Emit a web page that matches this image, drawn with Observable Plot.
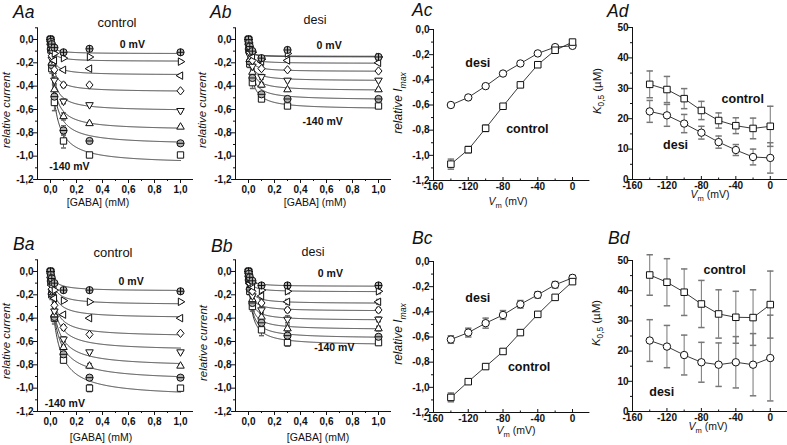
<!DOCTYPE html>
<html><head><meta charset="utf-8">
<script src="https://cdn.jsdelivr.net/npm/d3@7"></script>
<script src="https://cdn.jsdelivr.net/npm/@observablehq/plot@0.6"></script>
<style>
body{margin:0;background:#fff;}
#fig{position:relative;width:787px;height:445px;overflow:hidden;background:#fff;}
#fig svg{position:absolute;}
</style></head><body><div id="fig"></div>
<script>
// ---------- data ----------
const conc = [0, 0.003, 0.01, 0.03, 0.1, 0.3, 1.0];          // [GABA] mM
const vm = [-140, -120, -100, -80, -60, -40, -20, 0];         // mV

// Aa: control, row A (relative current per voltage, per concentration)
const aaI = [
  [0, -0.09, -0.25, -0.54, -0.87, -0.99, -0.99],
  [0, -0.08, -0.22, -0.49, -0.78, -0.87, -0.89],
  [0, -0.07, -0.20, -0.43, -0.66, -0.72, -0.75],
  [0, -0.06, -0.17, -0.35, -0.53, -0.56, -0.61],
  [0, -0.05, -0.14, -0.26, -0.39, -0.39, -0.44],
  [0, -0.04, -0.10, -0.18, -0.26, -0.25, -0.31],
  [0, -0.03, -0.07, -0.12, -0.16, -0.15, -0.19],
  [0, -0.02, -0.04, -0.07, -0.11, -0.08, -0.11]];
const aaE = [
  [0, 0.03, 0.04, 0.07, 0.06, 0.02, 0.01],
  [0, 0.02, 0.04, 0.05, 0.04, 0.02, 0.01],
  [0, 0.02, 0.03, 0.04, 0.03, 0.01, 0.01],
  [0, 0.02, 0.03, 0.03, 0.02, 0.01, 0.01],
  [0, 0.01, 0.02, 0.03, 0.02, 0.01, 0.01],
  [0, 0.01, 0.02, 0.02, 0.01, 0.01, 0.01],
  [0, 0.01, 0.01, 0.02, 0.01, 0.01, 0.01],
  [0, 0.01, 0.01, 0.01, 0.01, 0.01, 0.01]];
const aaFit = [-1.07, -0.905, -0.78, -0.615, -0.45, -0.305, -0.188, -0.122];

// Ab: desi, row A
const abI = [
  [0, -0.09, -0.21, -0.37, -0.51, -0.57, -0.57],
  [0, -0.08, -0.19, -0.33, -0.47, -0.51, -0.51],
  [0, -0.07, -0.17, -0.28, -0.39, -0.43, -0.43],
  [0, -0.06, -0.14, -0.23, -0.32, -0.35, -0.35],
  [0, -0.05, -0.11, -0.18, -0.25, -0.26, -0.27],
  [0, -0.04, -0.09, -0.14, -0.19, -0.18, -0.20],
  [0, -0.03, -0.07, -0.11, -0.17, -0.12, -0.15],
  [0, -0.03, -0.06, -0.10, -0.16, -0.09, -0.15]];
const abE = [
  [0, 0.02, 0.03, 0.05, 0.02, 0.01, 0.01],
  [0, 0.02, 0.03, 0.04, 0.02, 0.01, 0.01],
  [0, 0.02, 0.02, 0.03, 0.02, 0.01, 0.01],
  [0, 0.01, 0.02, 0.03, 0.02, 0.01, 0.01],
  [0, 0.01, 0.02, 0.02, 0.01, 0.01, 0.01],
  [0, 0.01, 0.01, 0.02, 0.01, 0.01, 0.01],
  [0, 0.01, 0.01, 0.01, 0.01, 0.02, 0.01],
  [0, 0.01, 0.01, 0.01, 0.01, 0.02, 0.01]];
const abFit = [-0.60, -0.52, -0.44, -0.355, -0.275, -0.205, -0.15, -0.145];

// Ba: control, row B
const baI = [
  [0, -0.09, -0.20, -0.40, -0.76, -1.00, -1.00],
  [0, -0.08, -0.19, -0.39, -0.71, -0.91, -0.91],
  [0, -0.07, -0.18, -0.37, -0.65, -0.81, -0.81],
  [0, -0.07, -0.17, -0.34, -0.58, -0.69, -0.69],
  [0, -0.06, -0.15, -0.29, -0.48, -0.54, -0.53],
  [0, -0.05, -0.12, -0.23, -0.37, -0.40, -0.40],
  [0, -0.04, -0.09, -0.16, -0.25, -0.26, -0.26],
  [0, -0.03, -0.06, -0.10, -0.16, -0.16, -0.17]];
const baE = [
  [0, 0.02, 0.04, 0.05, 0.02, 0.03, 0.01],
  [0, 0.02, 0.03, 0.04, 0.02, 0.02, 0.01],
  [0, 0.02, 0.03, 0.04, 0.02, 0.02, 0.01],
  [0, 0.02, 0.03, 0.03, 0.02, 0.01, 0.01],
  [0, 0.01, 0.02, 0.03, 0.02, 0.01, 0.01],
  [0, 0.01, 0.02, 0.02, 0.01, 0.01, 0.01],
  [0, 0.01, 0.01, 0.02, 0.01, 0.01, 0.01],
  [0, 0.01, 0.01, 0.01, 0.01, 0.01, 0.01]];
const baFit = [-1.08, -0.94, -0.82, -0.68, -0.56, -0.40, -0.285, -0.168];

// Bb: desi, row B
const bbI = [
  [0, -0.08, -0.17, -0.30, -0.50, -0.61, -0.61],
  [0, -0.07, -0.15, -0.27, -0.44, -0.55, -0.56],
  [0, -0.06, -0.14, -0.24, -0.39, -0.49, -0.49],
  [0, -0.06, -0.12, -0.21, -0.33, -0.41, -0.41],
  [0, -0.05, -0.10, -0.17, -0.27, -0.33, -0.33],
  [0, -0.04, -0.08, -0.13, -0.21, -0.26, -0.26],
  [0, -0.03, -0.06, -0.10, -0.16, -0.17, -0.17],
  [0, -0.02, -0.05, -0.08, -0.12, -0.12, -0.12]];
const bbE = [
  [0, 0.02, 0.03, 0.04, 0.05, 0.03, 0.02],
  [0, 0.02, 0.03, 0.04, 0.04, 0.03, 0.02],
  [0, 0.02, 0.03, 0.03, 0.04, 0.03, 0.02],
  [0, 0.02, 0.02, 0.03, 0.03, 0.03, 0.02],
  [0, 0.01, 0.02, 0.03, 0.03, 0.02, 0.02],
  [0, 0.01, 0.02, 0.02, 0.03, 0.02, 0.02],
  [0, 0.01, 0.01, 0.02, 0.02, 0.02, 0.02],
  [0, 0.01, 0.01, 0.02, 0.02, 0.02, 0.02]];
const bbFit = [-0.635, -0.575, -0.50, -0.42, -0.34, -0.275, -0.175, -0.128];

// Ac / Bc: relative Imax vs Vm
const acCtrl = [-1.07, -0.955, -0.785, -0.61, -0.44, -0.28, -0.165, -0.10];
const acCtrlErr = [0.04, 0.025, 0.025, 0.01, 0.01, 0.01, 0.01, 0.01];
const acDesi = [-0.60, -0.54, -0.45, -0.35, -0.27, -0.19, -0.14, -0.13];
const acDesiErr = [0.015, 0.01, 0.01, 0.01, 0.01, 0.01, 0.01, 0.01];
const bcCtrl = [-1.08, -0.955, -0.835, -0.715, -0.565, -0.42, -0.285, -0.16];
const bcCtrlErr = [0.035, 0.02, 0.02, 0.02, 0.02, 0.01, 0.01, 0.01];
const bcDesi = [-0.62, -0.565, -0.49, -0.425, -0.34, -0.265, -0.185, -0.13];
const bcDesiErr = [0.03, 0.035, 0.04, 0.035, 0.03, 0.025, 0.025, 0.02];

// Ad / Bd: K0.5 (µM) vs Vm
const adCtrl = [31.3, 29.6, 26.6, 22.7, 19.4, 17.7, 16.8, 17.5];
const adCtrlErr = [4.4, 4.3, 3.3, 3.0, 2.5, 2.6, 3.4, 6.6];
const adDesi = [22.4, 21.1, 18.4, 15.4, 12.3, 9.7, 7.4, 7.1];
const adDesiErr = [3.6, 3.6, 3.0, 2.1, 2.0, 1.8, 2.6, 5.0];
const bdCtrl = [45.2, 42.8, 39.5, 35.6, 32.3, 31.2, 31.1, 35.4];
const bdCtrlErr = [6.7, 7.8, 7.7, 7.8, 8.0, 8.6, 9.2, 11.1];
const bdDesi = [23.5, 21.5, 18.7, 16.3, 15.5, 16.3, 15.5, 17.7];
const bdDesiErr = [6.9, 7.0, 6.6, 6.6, 7.2, 8.5, 10.3, 14.2];

// tick values
const gabaTicks = [0, 0.2, 0.4, 0.6, 0.8, 1.0];
const gabaMinor = [0.1, 0.3, 0.5, 0.7, 0.9];
const curTicks = [-1.2, -1.0, -0.8, -0.6, -0.4, -0.2, 0];
const curMinor = [-1.1, -0.9, -0.7, -0.5, -0.3, -0.1, 0.1];
const vTicks = [-160, -120, -80, -40, 0];
const vMinor = [-140, -100, -60, -20];
const kTicks = [0, 10, 20, 30, 40, 50];
const kMinor = [5, 15, 25, 35, 45];

// ---------- helpers ----------
const FONT = '"Liberation Sans", Arial, sans-serif';
const fig = document.getElementById("fig");
const fmt1 = d => d3.format(".1f")(d).replace("\u2212", "-").replace(".", ",");
const fmtInt = d => String(d).replace("\u2212", "-");

function sym(f) { return {draw(ctx, size) { f(ctx, Math.sqrt(size / Math.PI)); }}; }
const S = {
  square: sym((c, r) => { const s = r * 0.88; c.moveTo(-s, -s); c.lineTo(s, -s); c.lineTo(s, s); c.lineTo(-s, s); c.closePath(); }),
  circle: sym((c, r) => { c.moveTo(r, 0); c.arc(0, 0, r, 0, 2 * Math.PI); }),
  circlePlus: sym((c, r) => { c.moveTo(r, 0); c.arc(0, 0, r, 0, 2 * Math.PI); c.moveTo(-r, 0); c.lineTo(r, 0); c.moveTo(0, -r); c.lineTo(0, r); }),
  circleMinus: sym((c, r) => { c.moveTo(r, 0); c.arc(0, 0, r, 0, 2 * Math.PI); c.moveTo(-r, 0); c.lineTo(r, 0); }),
  triUp: sym((c, r) => { const R = r * 1.2; c.moveTo(0, -R); c.lineTo(R * 0.87, R * 0.5); c.lineTo(-R * 0.87, R * 0.5); c.closePath(); }),
  triDown: sym((c, r) => { const R = r * 1.2; c.moveTo(0, R); c.lineTo(R * 0.87, -R * 0.5); c.lineTo(-R * 0.87, -R * 0.5); c.closePath(); }),
  triLeft: sym((c, r) => { const R = r * 1.2; c.moveTo(-R, 0); c.lineTo(R * 0.5, -R * 0.87); c.lineTo(R * 0.5, R * 0.87); c.closePath(); }),
  triRight: sym((c, r) => { const R = r * 1.2; c.moveTo(R, 0); c.lineTo(-R * 0.5, -R * 0.87); c.lineTo(-R * 0.5, R * 0.87); c.closePath(); }),
  diamond: sym((c, r) => { const R = r * 1.15; c.moveTo(0, -R); c.lineTo(R * 0.85, 0); c.lineTo(0, R); c.lineTo(-R * 0.85, 0); c.closePath(); }),
  cap: sym((c, r) => { c.moveTo(-r, 0); c.lineTo(r, 0); })
};
const symByV = [S.square, S.circleMinus, S.triUp, S.triDown, S.diamond, S.triLeft, S.triRight, S.circlePlus];
const fillByV = ["white", "#b0b0b0", "white", "white", "white", "white", "white", "#b0b0b0"];
const cGrid = d3.range(0, 1.00001, 0.0025);

function panel(cell, frame, xd, yd, marks) {
  const [cx0, cy0, cx1, cy1] = cell, [fx0, fy0, fx1, fy1] = frame;
  const svg = Plot.plot({
    width: cx1 - cx0, height: cy1 - cy0,
    marginLeft: fx0 - cx0, marginRight: cx1 - fx1, marginTop: fy0 - cy0, marginBottom: cy1 - fy1,
    style: {fontFamily: FONT, fontSize: "10px", fontWeight: "bold", color: "#111", background: "transparent", overflow: "visible", maxWidth: "none"},
    x: {domain: xd, label: null},
    y: {domain: yd, label: null},
    marks
  });
  svg.style.left = cx0 + "px";
  svg.style.top = cy0 + "px";
  fig.appendChild(svg);
}

function doseMarks(I, E, fit, K, xd, yd, notes) {
  const pts = [], crv = [];
  vm.forEach((v, i) => conc.forEach((c, j) => pts.push({v, i, c, y: I[i][j], e: E[i][j]})));
  vm.forEach((v, i) => { const k = K[i] / 1000; cGrid.forEach(c => crv.push({v, c, y: fit[i] * c / (c + k)})); });
  const eb = pts.filter(d => d.e > 0);
  const m = [
    Plot.ruleX([xd[0]], {stroke: "#111", strokeWidth: 1}),
    Plot.ruleY([yd[0]], {stroke: "#111", strokeWidth: 1}),
    Plot.axisX(gabaTicks, {tickSize: 4, tickPadding: 2, tickFormat: fmt1, label: null}),
    Plot.axisX(gabaMinor, {tickSize: 2, tickFormat: () => "", label: null}),
    Plot.axisY(curTicks, {tickSize: 4, tickPadding: 0, tickFormat: fmt1, label: null}),
    Plot.axisY(curMinor, {tickSize: 2, tickFormat: () => "", label: null}),
    Plot.line(crv, {x: "c", y: "y", z: "v", stroke: "#222", strokeWidth: 0.9}),
    Plot.ruleX(eb, {x: "c", y1: d => d.y - d.e, y2: d => d.y + d.e, stroke: "#666"}),
    Plot.dot(eb, {x: "c", y: d => d.y - d.e, symbol: S.cap, r: 2.5, stroke: "#666", fill: "none"}),
    Plot.dot(eb, {x: "c", y: d => d.y + d.e, symbol: S.cap, r: 2.5, stroke: "#666", fill: "none"})
  ];
  vm.forEach((v, i) => m.push(Plot.dot(pts.filter(d => d.i === i),
    {x: "c", y: "y", symbol: symByV[i], r: 3.6, stroke: "#111", strokeWidth: 1, fill: fillByV[i]})));
  m.push(Plot.text(notes, {x: "x", y: "y", text: "t", fontSize: 10.5, fontWeight: "bold", fill: "#111", textAnchor: "middle"}));
  return m;
}

function seriesMarks(sets, yTicks, yMinor, yFmt, xd, yd, notes) {
  const m = [
    Plot.ruleX([xd[0]], {stroke: "#111", strokeWidth: 1}),
    Plot.ruleY([yd[0]], {stroke: "#111", strokeWidth: 1}),
    Plot.axisX(vTicks, {tickSize: 0, tickPadding: 2.5, tickFormat: fmtInt, label: null}),
    Plot.axisX(vTicks, {tickSize: -3, tickFormat: () => "", label: null}),
    Plot.axisX(vMinor, {tickSize: -1.5, tickFormat: () => "", label: null}),
    Plot.axisY(yTicks, {tickSize: 4, tickPadding: 0, tickFormat: yFmt, label: null}),
    Plot.axisY(yMinor, {tickSize: 2, tickFormat: () => "", label: null})
  ];
  sets.forEach(({vals, errs, symbol}) => {
    const d = vm.map((v, i) => ({v, y: vals[i], e: errs[i]}));
    m.push(Plot.line(d, {x: "v", y: "y", stroke: "#222", strokeWidth: 0.9}));
    m.push(Plot.ruleX(d, {x: "v", y1: p => p.y - p.e, y2: p => p.y + p.e, stroke: "#777"}));
    m.push(Plot.dot(d, {x: "v", y: p => p.y - p.e, symbol: S.cap, r: 3.2, stroke: "#777", fill: "none"}));
    m.push(Plot.dot(d, {x: "v", y: p => p.y + p.e, symbol: S.cap, r: 3.2, stroke: "#777", fill: "none"}));
    m.push(Plot.dot(d, {x: "v", y: "y", symbol, r: 3.7, stroke: "#111", strokeWidth: 1, fill: "white"}));
  });
  m.push(Plot.text(notes, {x: "x", y: "y", text: "t", fontSize: 12.5, fontWeight: "bold", fill: "#111", textAnchor: "middle"}));
  return m;
}

// ---------- panels ----------
const gx = [-0.1, 1.1], gy = [-1.2, 0.1], vx = [-160, 20];
panel([0, 0, 197, 222], [37, 27.3, 193, 179], gx, gy,
  doseMarks(aaI, aaE, aaFit, adCtrl, gx, gy, [{x: 0.63, y: -0.04, t: "0 mV"}, {x: 0.146, y: -1.09, t: "-140 mV"}]));
panel([197, 0, 393, 222], [235, 27.3, 391, 179], gx, gy,
  doseMarks(abI, abE, abFit, adDesi, gx, gy, [{x: 0.62, y: -0.05, t: "0 mV"}, {x: 0.57, y: -0.70, t: "-140 mV"}]));
panel([393, 0, 592, 222], [433, 29, 589.4, 180], vx, [-1.2, 0],
  seriesMarks([{vals: acDesi, errs: acDesiErr, symbol: S.circle}, {vals: acCtrl, errs: acCtrlErr, symbol: S.square}],
    curTicks, curMinor.filter(t => t < 0), fmt1, vx, [-1.2, 0],
    [{x: -109, y: -0.27, t: "desi"}, {x: -52, y: -0.79, t: "control"}]));
panel([592, 0, 787, 222], [632, 27, 787, 179], vx, [0, 50],
  seriesMarks([{vals: adCtrl, errs: adCtrlErr, symbol: S.square}, {vals: adDesi, errs: adDesiErr, symbol: S.circle}],
    kTicks, kMinor, fmtInt, vx, [0, 50],
    [{x: -32, y: 26.6, t: "control"}, {x: -110, y: 11.2, t: "desi"}]));

panel([0, 222, 197, 445], [37, 259.3, 193, 411], gx, gy,
  doseMarks(baI, baE, baFit, bdCtrl, gx, gy, [{x: 0.62, y: -0.086, t: "0 mV"}, {x: 0.11, y: -1.13, t: "-140 mV"}]));
panel([197, 222, 393, 445], [235, 259.3, 391, 411], gx, gy,
  doseMarks(bbI, bbE, bbFit, bdDesi, gx, gy, [{x: 0.63, y: -0.02, t: "0 mV"}, {x: 0.66, y: -0.65, t: "-140 mV"}]));
panel([393, 222, 592, 445], [433, 261, 589.4, 412], vx, [-1.2, 0],
  seriesMarks([{vals: bcDesi, errs: bcDesiErr, symbol: S.circle}, {vals: bcCtrl, errs: bcCtrlErr, symbol: S.square}],
    curTicks, curMinor.filter(t => t < 0), fmt1, vx, [-1.2, 0],
    [{x: -109, y: -0.29, t: "desi"}, {x: -50, y: -0.84, t: "control"}]));
panel([592, 222, 787, 445], [632, 260, 787, 411], vx, [0, 50],
  seriesMarks([{vals: bdCtrl, errs: bdCtrlErr, symbol: S.square}, {vals: bdDesi, errs: bdDesiErr, symbol: S.circle}],
    kTicks, kMinor, fmtInt, vx, [0, 50],
    [{x: -53, y: 46.7, t: "control"}, {x: -126, y: 6.3, t: "desi"}]));

// ---------- text overlay: panel letters, titles, axis titles ----------
const ov = d3.select(fig).append("svg").attr("width", 787).attr("height", 445)
  .style("left", "0px").style("top", "0px").style("pointer-events", "none")
  .attr("font-family", FONT).attr("fill", "#111");

function txt(x, y, parts, {size = 11, anchor = "middle", rotate = false, weight = "normal", italic = false} = {}) {
  const t = ov.append("text").attr("text-anchor", anchor).attr("font-size", size).attr("font-weight", weight)
    .attr("font-style", italic ? "italic" : "normal")
    .attr("transform", `translate(${x},${y})` + (rotate ? " rotate(-90)" : ""));
  parts.forEach(p => {
    const s = t.append("tspan").text(p.t);
    if (p.italic != null) s.attr("font-style", p.italic ? "italic" : "normal");
    if (p.sub) s.attr("font-size", size * 0.72).attr("dy", size * 0.3);
    if (p.after) s.attr("dy", -size * 0.3);
  });
}

[["Aa", 13, 18], ["Ab", 210, 18], ["Ac", 412, 16], ["Ad", 607, 17],
 ["Ba", 13, 250], ["Bb", 211, 252], ["Bc", 412, 244], ["Bd", 608, 244]]
  .forEach(([s, x, y]) => txt(x, y, [{t: s}], {size: 17.5, anchor: "start", italic: true}));

txt(117, 27, [{t: "control"}], {size: 13});
txt(315, 24, [{t: "desi"}], {size: 12.5});
txt(113, 257, [{t: "control"}], {size: 13});
txt(313, 256, [{t: "desi"}], {size: 12.5});

[[98, 206], [315, 206], [101, 441], [318, 441]].forEach(([x, y]) => txt(x, y, [{t: "[GABA] (mM)"}], {size: 10.5}));
[[508, 205], [516, 434], [710, 198], [708, 430]].forEach(([x, y]) =>
  txt(x, y, [{t: "V", italic: true}, {t: "m", sub: true, italic: false}, {t: " (mV)", after: true, italic: false}], {size: 10.5}));

[[10, 110], [206, 110], [10, 341], [207, 343]].forEach(([x, y]) =>
  txt(x, y, [{t: "relative current"}], {size: 11.5, rotate: true, italic: true}));
[[402, 103], [402, 334]].forEach(([x, y]) =>
  txt(x, y, [{t: "relative I"}, {t: "max", sub: true}], {size: 12, rotate: true, italic: true}));
[[601, 91], [600, 323]].forEach(([x, y]) =>
  txt(x, y, [{t: "K", italic: true}, {t: "0,5", sub: true, italic: false}, {t: " (\u00b5M)", after: true, italic: false}], {size: 11.5, rotate: true}));
</script>
</body></html>
